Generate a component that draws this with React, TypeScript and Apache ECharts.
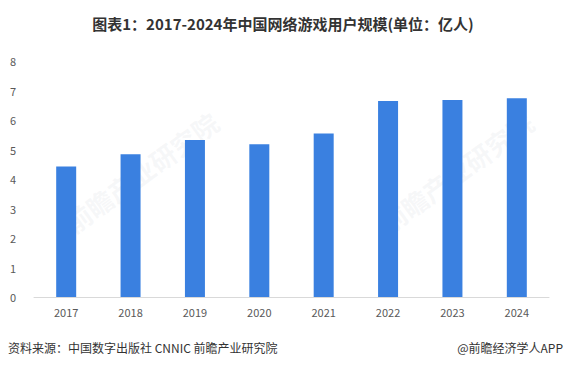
import React, { useEffect, useRef } from "react";
import * as echarts from "echarts";

const years = ["2017", "2018", "2019", "2020", "2021", "2022", "2023", "2024"];
const users = [4.42, 4.84, 5.32, 5.18, 5.54, 6.64, 6.68, 6.74];
const titleText = "图表1：2017-2024年中国网络游戏用户规模(单位：亿人)";
const sourceText = "资料来源：中国数字出版社 CNNIC 前瞻产业研究院";
const creditText = "@前瞻经济学人APP";
const watermarkText = "前瞻产业研究院";

export default function App() {
  const ref = useRef<HTMLDivElement>(null);
  useEffect(() => {
    if (!ref.current) return;
    const chart = echarts.init(ref.current, null, { renderer: "svg" });
    const font = "'Microsoft YaHei', 'Noto Sans CJK SC', sans-serif";
    const wm = { fontSize: 26, fill: "rgba(200,205,215,0.16)", fontFamily: font, fontWeight: "bold" };
    chart.setOption({
      animation: false,
      backgroundColor: "#ffffff",
      title: {
        text: titleText,
        left: "center",
        top: 11,
        textStyle: { fontSize: 15, fontWeight: "bold", color: "#333333", fontFamily: font },
      },
      grid: { left: 34, right: 17, top: 61, bottom: 73, containLabel: false },
      xAxis: {
        type: "category",
        data: years,
        axisLine: { lineStyle: { color: "#d9d9d9" } },
        axisTick: { show: false },
        axisLabel: { color: "#595959", fontSize: 11, margin: 9, fontFamily: font },
      },
      yAxis: {
        type: "value",
        min: 0,
        max: 8,
        interval: 1,
        axisLine: { show: false },
        axisTick: { show: false },
        splitLine: { show: false },
        axisLabel: { color: "#595959", fontSize: 11, margin: 18, fontFamily: font },
      },
      series: [
        {
          type: "bar",
          data: users,
          barWidth: 20,
          itemStyle: { color: "#3a80e0" },
        },
      ],
      graphic: [
        {
          type: "text",
          left: 8,
          top: 341,
          style: { text: sourceText, fontSize: 12, fill: "#333333", fontFamily: font },
        },
        {
          type: "text",
          right: 3,
          top: 341,
          style: { text: creditText, fontSize: 12, fill: "#333333", fontFamily: font },
        },
        {
          type: "text",
          x: 60,
          y: 215,
          rotation: Math.PI / 5,
          z: -1,
          style: wm,
        },
        {
          type: "text",
          x: 375,
          y: 215,
          rotation: Math.PI / 5,
          z: -1,
          style: wm,
        },
      ].map((g: any, i: number) => (i >= 2 ? { ...g, style: { ...g.style, text: watermarkText } } : g)),
    });
    return () => chart.dispose();
  }, []);
  return (
    <div
      ref={ref}
      style={{ position: "fixed", left: 0, top: 0, width: 566, height: 370 }}
    />
  );
}
